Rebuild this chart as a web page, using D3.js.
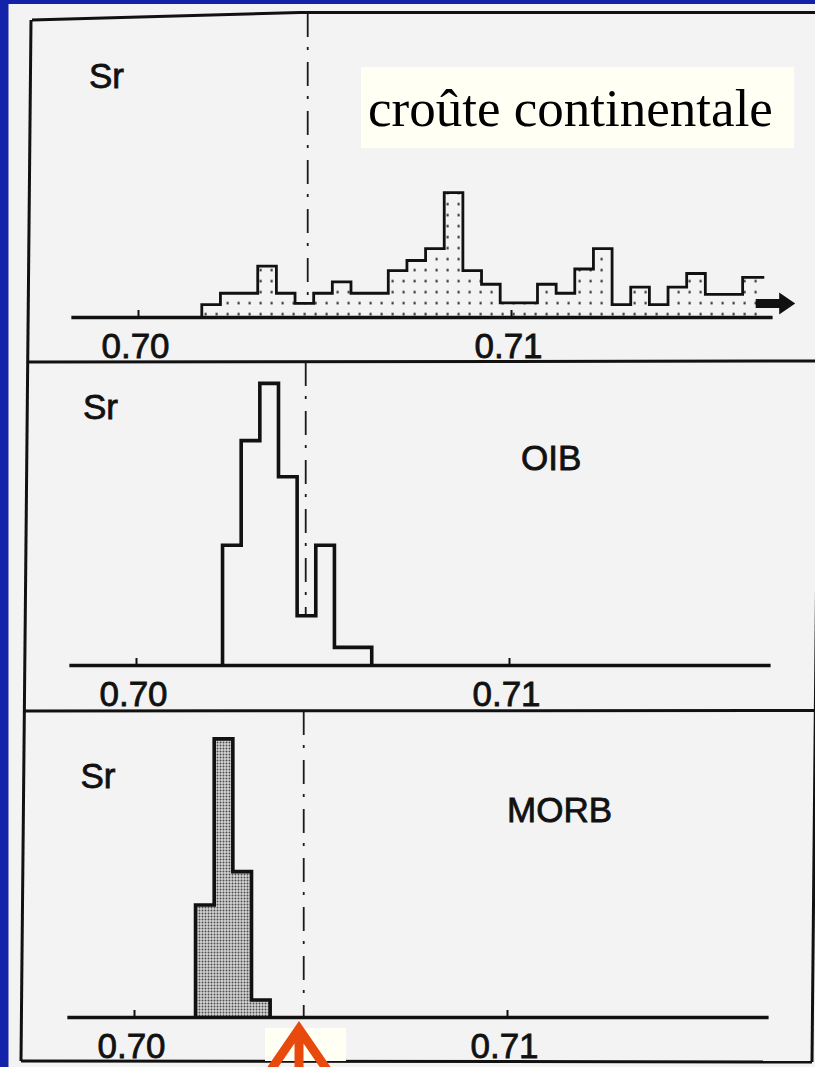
<!DOCTYPE html>
<html>
<head>
<meta charset="utf-8">
<script src="https://cdn.jsdelivr.net/npm/d3@7/dist/d3.min.js"></script>
<style>
  html, body { margin: 0; padding: 0; background: #1422aa; }
  svg { display: block; }
</style>
</head>
<body>
<script>
// ---------------- DATA ----------------
const tickValues = [0.70, 0.71];
const tickLabels = ["0.70", "0.71"];
const axisExtent = [0.6982, 0.7170];
const binWidth = 0.0005;
const bulkEarth = 0.70455;

const panelNames = ["croûte continentale", "OIB", "MORB"];
const yLabel = "Sr";

// continental crust (87Sr/86Sr histogram, relative frequency)
const crustStart = 0.70171;
const crustCounts = [1.1, 2.1, 2.1, 4.5, 2.1, 1.2, 2.1, 3.1, 2.1, 2.1,
                     4.1, 5.0, 6.05, 11.0, 4.1, 2.9, 1.25, 1.25, 2.9, 2.1,
                     4.25, 6.05, 1.1, 2.65, 1.1, 2.65, 3.85, 2.0, 2.0, 3.5];
// ocean island basalts
const oibStart = 0.70232;
const oibCounts = [6.8, 12.75, 16.0, 10.7, 2.8, 6.8, 1.0, 1.0];
// mid-ocean ridge basalts
const morbStart = 0.70165;
const morbCounts = [6.36, 15.8, 8.26, 0.97];

// ---------------- LAYOUT ----------------
const W = 815, H = 1067;
const layout = [
  { x0: 138, baseline: 317, top: 13,  unit: 11.3, srX: 89, srY: 88,
    counts: crustCounts, start: crustStart, style: "dots", openRight: true, stroke: 2.8 },
  { x0: 136, baseline: 665, top: 362, unit: 17.6, srX: 83, srY: 419,
    counts: oibCounts, start: oibStart, style: "none", openRight: false, stroke: 3.6,
    nameX: 521, nameY: 470 },
  { x0: 134, baseline: 1017, top: 711, unit: 17.6, srX: 80.5, srY: 788,
    counts: morbCounts, start: morbStart, style: "stipple", openRight: false, stroke: 3.6,
    nameX: 507, nameY: 822 }
];
const pxPerHundredth = 373;
const ink = "#111";
const paper = "#f3f3f3";
const sansFont = "'Liberation Sans', Arial, sans-serif";

const svg = d3.select("body").append("svg")
  .attr("width", W).attr("height", H);

// background: blue slide + paper scan
svg.append("rect").attr("width", W).attr("height", H).attr("fill", "#1422aa");
svg.append("rect").attr("x", 8.5).attr("y", 4).attr("width", W).attr("height", H)
  .attr("fill", paper);

const defs = svg.append("defs");
// sparse dot pattern (continental crust)
const pDots = defs.append("pattern").attr("id", "dots")
  .attr("patternUnits", "userSpaceOnUse").attr("width", 11).attr("height", 11)
  .attr("x", 211).attr("y", layout[0].baseline + 2.5);
pDots.append("rect").attr("x", 4.5).attr("y", 4.5).attr("width", 2.2).attr("height", 2.2).attr("fill", "#222");
// fine stipple pattern (MORB)
const pSt = defs.append("pattern").attr("id", "stipple")
  .attr("patternUnits", "userSpaceOnUse").attr("width", 3).attr("height", 3);
pSt.append("rect").attr("width", 3).attr("height", 3).attr("fill", "#d4d4d4");
pSt.append("circle").attr("cx", 1.5).attr("cy", 1.5).attr("r", 0.95).attr("fill", "#4a4a4a");

// frame (scanned page, slightly rotated)
const frame = svg.append("g").attr("fill", "none").attr("stroke", ink).attr("stroke-width", 3);
frame.append("path").attr("d", "M32,20 L300,12.5 L815,12.5");
frame.append("path").attr("d", "M31,20 L21,1061");
frame.append("path").attr("d", "M27,362 L815,361");
frame.append("path").attr("d", "M24,711 L815,710.5");
frame.append("path").attr("d", "M21,1061 L812,1062");
frame.append("path").attr("d", "M822,12 L812,1062");

// ---------------- PANELS ----------------
layout.forEach((L, pi) => {
  const g = svg.append("g");
  const x = d3.scaleLinear().domain([0.70, 0.71]).range([L.x0, L.x0 + pxPerHundredth]);
  const y = d3.scaleLinear().domain([0, 1]).range([L.baseline, L.baseline - L.unit]);
  const n = L.counts.length;
  const edge = i => x(L.start + i * binWidth);

  // fill area
  const area = d3.path();
  area.moveTo(edge(0), y(0));
  L.counts.forEach((c, i) => { area.lineTo(edge(i), y(c)); area.lineTo(edge(i + 1), y(c)); });
  if (L.openRight) area.lineTo(edge(n) + 3, y(L.counts[n - 1]));
  area.lineTo(L.openRight ? edge(n) + 3 : edge(n), y(0));
  area.closePath();
  if (L.style !== "none") {
    g.append("path").attr("d", area.toString())
      .attr("fill", L.style === "dots" ? "url(#dots)" : "url(#stipple)");
  }

  // dashed bulk-earth line (stops at histogram top)
  const bi = Math.floor((bulkEarth - L.start) / binWidth);
  const cAt = (bi >= 0 && bi < n) ? L.counts[bi] : 0;
  g.append("line")
    .attr("x1", x(bulkEarth)).attr("x2", x(bulkEarth))
    .attr("y1", L.top).attr("y2", y(cAt))
    .attr("stroke", "#1a1a1a").attr("stroke-width", 1.8)
    .attr("stroke-dasharray", "24 10 3 12");

  // outline
  const line = d3.path();
  line.moveTo(edge(0), y(0));
  L.counts.forEach((c, i) => { line.lineTo(edge(i), y(c)); line.lineTo(edge(i + 1), y(c)); });
  if (L.openRight) line.lineTo(edge(n) + 3, y(L.counts[n - 1]));
  else line.lineTo(edge(n), y(0));
  g.append("path").attr("d", line.toString())
    .attr("fill", "none").attr("stroke", ink).attr("stroke-width", L.stroke)
    .attr("stroke-linejoin", "miter");

  // axis
  const ax = d3.scaleLinear().domain(axisExtent).range(axisExtent.map(x));
  const axisG = g.append("g").attr("transform", `translate(0,${L.baseline})`)
    .call(d3.axisBottom(ax).tickValues(tickValues)
      .tickFormat((d, i) => tickLabels[i])
      .tickSizeInner(-7).tickSizeOuter(0).tickPadding(16));
  axisG.select(".domain").attr("stroke", ink).attr("stroke-width", 3.4);
  axisG.selectAll(".tick line").attr("stroke", ink).attr("stroke-width", 2);
  axisG.selectAll(".tick text")
    .attr("fill", ink).attr("font-size", 35).attr("dx", -3)
    .attr("stroke", ink).attr("stroke-width", 0.8)
    .attr("font-family", sansFont);
  axisG.attr("font-size", null).attr("font-family", null);

  // "Sr" label
  g.append("text").attr("x", L.srX).attr("y", L.srY)
    .attr("font-family", sansFont).attr("stroke", ink).attr("stroke-width", 0.8)
    .attr("font-size", 35).attr("fill", ink).text(yLabel);

  // arrow continuing to higher values (crust only)
  if (pi === 0) {
    const ay = L.baseline - 13.5;
    const a0 = x(0.71656), a1 = x(0.71719), a2 = x(0.71762);
    g.append("path")
      .attr("d", `M${a0},${ay - 4.5} L${a1},${ay - 4.5} L${a1},${ay - 11} L${a2},${ay} L${a1},${ay + 11} L${a1},${ay + 4.5} L${a0},${ay + 4.5} Z`)
      .attr("fill", ink);
  }

  // panel names
  if (pi > 0) {
    g.append("text").attr("x", L.nameX).attr("y", L.nameY)
      .attr("font-family", sansFont).attr("stroke", ink).attr("stroke-width", 0.8)
      .attr("font-size", 35).attr("fill", ink).text(panelNames[pi]);
  }
});

// overlay label box for continental crust
svg.append("rect").attr("x", 361).attr("y", 67).attr("width", 433).attr("height", 81)
  .attr("fill", "#fffff4");
const ct = svg.append("text").attr("x", 368).attr("y", 126)
  .attr("font-family", "'Liberation Serif', 'Times New Roman', serif")
  .attr("font-size", 52).attr("fill", "#000").text(panelNames[0]);
const len = ct.node().getComputedTextLength();
ct.attr("font-size", 52 * 405 / len);

// annotation: white patch + orange arrow under bulk-earth value
svg.append("rect").attr("x", 265).attr("y", 1028).attr("width", 81).attr("height", 33)
  .attr("fill", "#fffff4");
svg.append("path").attr("d", "M268,1074 L299,1029 L330,1074 M299,1032 L299,1074")
  .attr("fill", "none").attr("stroke", "#e84a0e").attr("stroke-width", 9)
  .attr("stroke-linejoin", "miter");
</script>
</body>
</html>
